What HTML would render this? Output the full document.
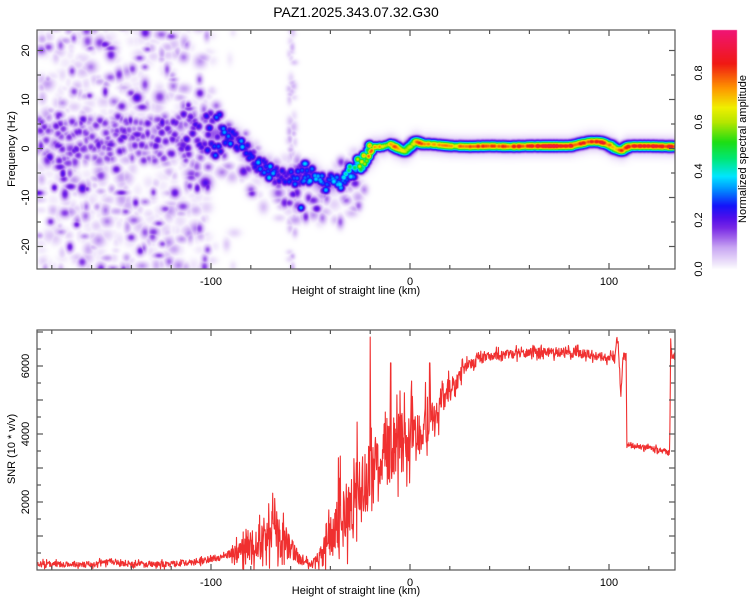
<!DOCTYPE html>
<html><head><meta charset="utf-8">
<style>
html,body{margin:0;padding:0;background:#fff;}
#wrap{position:relative;width:750px;height:600px;overflow:hidden;font-family:"Liberation Sans",sans-serif;}
canvas{position:absolute;left:0;top:0;}
svg{position:absolute;left:0;top:0;}
</style></head>
<body>
<div id="wrap">
<canvas id="spec" width="750" height="600"></canvas>
<svg id="ov" width="750" height="600" xmlns="http://www.w3.org/2000/svg">
<text x="356" y="17" text-anchor="middle" font-size="14" fill="#000">PAZ1.2025.343.07.32.G30</text>
<g id="axes1"></g>
<g id="axes2"></g>
<g id="cbar"></g>
<text x="356" y="294" text-anchor="middle" font-size="11">Height of straight line (km)</text>
<text transform="translate(15,149) rotate(-90)" text-anchor="middle" font-size="11">Frequency (Hz)</text>
<text x="356" y="594" text-anchor="middle" font-size="11">Height of straight line (km)</text>
<text transform="translate(15,449) rotate(-90)" text-anchor="middle" font-size="11">SNR (10 * v/v)</text>
<text transform="translate(746,149) rotate(-90)" text-anchor="middle" font-size="11">Normalized spectral amplitude</text>
</svg>
</div>
<script>
// ---- data ----
const ridgeH = [-187,-175,-165,-155,-145,-135,-125,-115,-105,-100,-95,-90,-85,-80,-75,-70,-65,-60,-55,-50,-45,-40,-35,-30,-26,-22,-18,-14,-10,-6,-3,0,3,6,10,20,30,40,50,60,70,80,90,95,100,103,106,110,120,130,133];
const ridgeF = [2,1,2,1.5,2.5,2,2,3,2.5,3,3,2.5,1,-1.5,-3.5,-5,-5.5,-6,-6,-5,-7,-7,-6.5,-5,-3,-1.6,0.4,0.5,1,0,-0.5,0.5,1.5,1,1,0.6,0.5,0.6,0.5,0.6,0.6,0.6,1.5,1.5,0.8,0,-0.3,0.6,0.6,0.5,0.5];
const ridgeA = [.15,.17,.18,.15,.17,.17,.18,.2,.22,.26,.32,.3,.33,.3,.32,.33,.3,.26,.33,.33,.32,.33,.35,.45,.6,.78,.68,.68,.8,.75,.62,.58,.78,.76,.68,.72,.78,.78,.8,.83,.86,.86,.78,.86,.78,.68,.78,.83,.86,.83,.78];
const snrH = [-187,-160,-150,-140,-120,-105,-95,-85,-78,-72,-68,-64,-60,-55,-50,-46,-42,-38,-34,-30,-25,-20,-15,-10,-5,0,5,10,15,20,25,30,40,50,60,70,80,90,100,103,104,105,106,107,108,108.6,109,120,130.5,131,131.5,133];
const snrV = [170,170,250,170,170,250,400,550,750,1000,1100,900,650,300,200,350,750,1150,1550,1950,2300,2800,3200,3600,3700,3800,4100,4500,4900,5300,5700,6050,6300,6350,6400,6400,6400,6350,6250,6200,6900,6300,5100,6300,6250,6250,3650,3600,3450,6800,6300,6250];
const snrSpread = [.7,.7,.7,.7,.7,.7,.8,.85,.9,.9,.9,.9,.8,.7,.7,.8,.9,.9,.8,.7,.6,.5,.4,.4,.35,.3,.25,.2,.15,.1,.06,.04,.03,.03,.03,.03,.03,.03,.03,.03,.03,.03,.03,.03,.03,.03,.03,.03,.03,.03,.03,.03];
const snrSpikeH = [-71,-69,-36,-35,-26.6,-20,-9.7,0.8,9.9];
const snrSpikeV = [1950,2260,3300,3350,4350,6850,6090,5560,6090];
const xTicks = [-100,0,100];
const fTicks = [-20,-10,0,10,20];
const snrTicks = [2000,4000,6000];
const cbTicks = [0.0,0.2,0.4,0.6,0.8];

// ---- geometry ----
const X0=37,X1=675;
const hx = h => 410 + (h)*1.99;
const T1=30,B1=269, fy = f => 148.5 - f*4.9;
const T2=330,B2=570, sy = v => 570 - v*0.034;
const CB0=712,CB1=737, cby = v => 269 - v*245;

function lcg(seed){let s=seed>>>0;return()=>{s=(s*1664525+1013904223)>>>0;return s/4294967296;};}
function interp(xs,ys,x){if(x<=xs[0])return ys[0];for(let i=1;i<xs.length;i++){if(x<=xs[i]){const t=(x-xs[i-1])/(xs[i]-xs[i-1]);return ys[i-1]+t*(ys[i]-ys[i-1]);}}return ys[ys.length-1];}

const stops=[[0,255,255,255],[.02,242,234,252],[.05,225,205,248],[.09,200,165,243],[.13,160,100,235],[.17,120,40,230],[.21,80,15,235],[.26,20,20,250],[.33,0,150,255],[.38,0,230,255],[.45,0,232,120],[.52,30,222,20],[.6,180,230,0],[.66,240,240,0],[.74,255,150,0],[.84,240,25,20],[.98,240,20,120]];
function cmap(v){if(v<=0)return[255,255,255];for(let i=1;i<stops.length;i++){if(v<=stops[i][0]){const a=stops[i-1],b=stops[i],t=(v-a[0])/(b[0]-a[0]);return[a[1]+t*(b[1]-a[1]),a[2]+t*(b[2]-a[2]),a[3]+t*(b[3]-a[3])];}}const l=stops[stops.length-1];return[l[1],l[2],l[3]];}

// ---- spectrogram field ----
const W=X1-X0, H=B1-T1;
const field=new Float32Array(W*H);
function blob(cx,cy,amp,sx,sy){
  const rx=Math.ceil(sx*2.8), ry=Math.ceil(sy*2.8);
  for(let y=Math.max(0,Math.floor(cy-ry));y<Math.min(H,cy+ry);y++){
    for(let x=Math.max(0,Math.floor(cx-rx));x<Math.min(W,cx+rx);x++){
      const dx=(x-cx)/sx, dy=(y-cy)/sy;
      const v=amp*Math.exp(-0.5*(dx*dx+dy*dy));
      const k=y*W+x; if(v>field[k])field[k]=v;
    }}
}
// background noise texture
const r=lcg(12345);
for(let i=0;i<750;i++){
  const h=-187+r()*88+ (r()<0.15? r()*15:0);
  const f=-25+r()*50;
  const near=Math.abs(f-interp(ridgeH,ridgeF,h))<12;
  const q=r();
  blob(hx(h)-X0, fy(f)-T1, 0.02+q*q*q*(near?0.2:0.17), 2.2+r()*2.5, 2.2+r()*2.5);
}
for(let i=0;i<60;i++){
  const h=-61+r()*3, f=-25+r()*50;
  blob(hx(h)-X0, fy(f)-T1, 0.03+r()*0.05, 1.8+r(), 2+r()*2);
}
for(let i=0;i<150;i++){
  const h=-100+r()*78, f=interp(ridgeH,ridgeF,h)-9+r()*13;
  const q=r();
  blob(hx(h)-X0, fy(f)-T1, 0.03+q*q*0.18, 2.5+r()*2, 2.5+r()*2);
}
blob(hx(-55)-X0,fy(-12)-T1,0.34,3,3);
blob(hx(-53)-X0,fy(-3)-T1,0.38,3.5,3);
// ridge halo
for(let h=-100;h<=133;h+=1){
  const f=interp(ridgeH,ridgeF,h);
  blob(hx(h)-X0, fy(f)-T1, h>-20?0.1:0.14, 5, h>-20?6:7);
}
// ridge
for(let h=-187;h<=133;h+=0.5){
  const f=interp(ridgeH,ridgeF,h), a=interp(ridgeH,ridgeA,h);
  const wide = h<-95?1:(h<-20?0.35:0.0);
  const jf=(r()-0.5)*9*wide;
  const tex = h<-10 ? 0.6+0.55*r() : 0.85+0.25*r();
  const sxx = h>-10?5:3.2, syy = h>-10?3.4:3.2;
  blob(hx(h)-X0, fy(f+jf)-T1, Math.min(0.97,a*tex), sxx, syy);
}
const cv=document.getElementById('spec'),ctx=cv.getContext('2d');
const img=ctx.createImageData(W,H);
for(let k=0;k<W*H;k++){const c=cmap(field[k]);img.data[4*k]=c[0];img.data[4*k+1]=c[1];img.data[4*k+2]=c[2];img.data[4*k+3]=255;}
ctx.putImageData(img,X0,T1);
// colorbar
for(let y=T1;y<B1;y++){const c=cmap((B1-y)/245);ctx.fillStyle=`rgb(${c[0]|0},${c[1]|0},${c[2]|0})`;ctx.fillRect(CB0,y,CB1-CB0,1);}

// ---- SVG overlay ----
const NS='http://www.w3.org/2000/svg';
function el(parent,tag,attrs){const e=document.createElementNS(NS,tag);for(const k in attrs)e.setAttribute(k,attrs[k]);parent.appendChild(e);return e;}
function frame(g,top,bot){
  const rc=el(g,'rect',{x:X0,y:top,width:X1-X0,height:bot-top,fill:'none',stroke:'#555','stroke-width':1.2});
  
  
}
function tick(g,x1,y1,x2,y2){el(g,'line',{x1,y1,x2,y2,stroke:'#555','stroke-width':1.2});}

// SNR line
const g2=document.getElementById('axes2');
const rs=lcg(777);
let pts=[];
for(let h=-187;h<=133;h+=0.2){
  const b=interp(snrH,snrV,h), sp=interp(snrH,snrSpread,h);
  let v=b*(1+sp*(rs()*2-1)*(rs()<0.3?1.3:0.7));
  if(h<-90) v=b+(rs()*2-1)*sp*130*(rs()<0.15?1.6:1);
  for(let i=0;i<snrSpikeH.length;i++){if(Math.abs(h-snrSpikeH[i])<0.15)v=snrSpikeV[i];}
  v=Math.max(15,Math.min(7050,v));
  pts.push(hx(h).toFixed(1)+','+sy(v).toFixed(1));
}
const ln=el(g2,'polyline',{points:pts.join(' '),fill:'none',stroke:'#f03030','stroke-width':1.1,'stroke-linejoin':'round'});



const g1=document.getElementById('axes1');
frame(g1,T1,B1); frame(g2,T2,B2);
for(const [g,top,bot] of [[g1,T1,B1],[g2,T2,B2]]){
  for(let h=-180;h<=133;h+=20){const x=hx(h),len=(h%100===0)?6:4;tick(g,x,top,x,top+len);tick(g,x,bot,x,bot-len);}
  for(const t of xTicks){const tx=el(g,'text',{x:hx(t),y:bot+16,'text-anchor':'middle','font-size':11});tx.textContent=t;
    
    }
}
for(let f=-20;f<=24;f+=5){const y=fy(f),len=(f%10===0)?6:4;tick(g1,X0,y,X0+len,y);tick(g1,X1,y,X1-len,y);}
for(const t of fTicks){const tx=el(g1,'text',{transform:`translate(29,${fy(t)}) rotate(-90)`,'text-anchor':'middle','font-size':11});tx.textContent=t;
  
  }
for(let v=500;v<=7000;v+=500){const y=sy(v),len=(v%1000===0)?6:4;tick(g2,X0,y,X0+len,y);tick(g2,X1,y,X1-len,y);}
for(const t of snrTicks){const tx=el(g2,'text',{transform:`translate(29,${sy(t)}) rotate(-90)`,'text-anchor':'middle','font-size':11});tx.textContent=t;
  
  }
const gc=document.getElementById('cbar');
for(const t of cbTicks){const tx=el(gc,'text',{transform:`translate(702,${cby(t)}) rotate(-90)`,'text-anchor':'middle','font-size':11});tx.textContent=t.toFixed(1);
  
  }
</script>
</body></html>
